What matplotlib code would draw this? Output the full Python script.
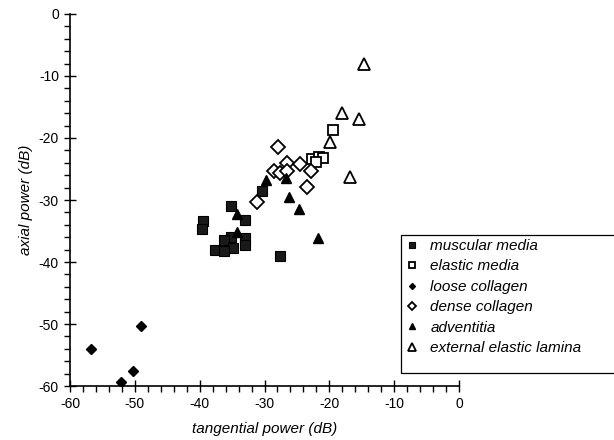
import matplotlib
matplotlib.use('Agg')
import matplotlib.pyplot as plt
from matplotlib.ticker import MultipleLocator
from matplotlib.patches import Rectangle

plt.rcParams['font.family'] = ['Liberation Sans', 'DejaVu Sans']
plt.rcParams['axes.unicode_minus'] = False

# --- data (tangential dB, axial dB) ---
muscular_x = [-35.2, -33.0, -39.5, -39.7, -35.2, -36.2, -33.0, -33.0, -34.9, -37.6, -36.2, -30.4, -27.6]
muscular_y = [-30.9, -33.2, -33.4, -34.7, -36.0, -36.4, -36.1, -37.2, -37.7, -38.1, -38.2, -28.5, -39.0]

elastic_x = [-19.4, -22.7, -21.6, -21.0, -22.0]
elastic_y = [-18.7, -23.4, -23.1, -23.2, -23.8]

loose_x = [-56.8, -49.0, -50.3, -52.1]
loose_y = [-54.1, -50.3, -57.5, -59.4]

dense_x = [-27.9, -26.6, -24.5, -28.5, -27.6, -26.6, -22.8, -23.5, -31.2]
dense_y = [-21.5, -24.0, -24.2, -25.3, -25.7, -25.4, -25.3, -27.9, -30.3]

advent_x = [-29.8, -26.7, -26.3, -24.7, -21.7, -34.3, -34.3]
advent_y = [-26.8, -26.5, -29.5, -31.5, -36.1, -32.3, -35.1]

eel_x = [-14.7, -18.1, -15.4, -19.9, -16.8]
eel_y = [-8.1, -15.9, -17.0, -20.6, -26.3]

fig = plt.figure(figsize=(6.14, 4.40), dpi=100)
ax = fig.add_axes([0.114, 0.1227, 0.6336, 0.8455])

ax.plot(muscular_x, muscular_y, 's', ms=7.5, mfc='#1a1a1a', mec='black', mew=0.8,
        label='muscular media')
ax.plot(elastic_x, elastic_y, 's', ms=7.5, mfc='white', mec='black', mew=1.3,
        label='elastic media')
ax.plot(loose_x, loose_y, 'D', ms=5, mfc='black', mec='black',
        label='loose collagen')
ax.plot(dense_x, dense_y, 'D', ms=7.5, mfc='white', mec='black', mew=1.3,
        label='dense collagen')
ax.plot(advent_x, advent_y, '^', ms=6.5, mfc='black', mec='black',
        label='adventitia')
ax.plot(eel_x, eel_y, '^', ms=9, mfc='none', mec='black', mew=1.3,
        label='external elastic lamina')

ax.set_xlim(-60, 0)
ax.set_ylim(-60, 0)
ax.xaxis.set_major_locator(MultipleLocator(10))
ax.xaxis.set_minor_locator(MultipleLocator(2))
ax.yaxis.set_major_locator(MultipleLocator(10))
ax.yaxis.set_minor_locator(MultipleLocator(2))
ax.tick_params(which='major', direction='inout', length=9, width=1, labelsize=10)
ax.tick_params(which='minor', direction='out', length=4, width=1)

for s in ['top', 'right']:
    ax.spines[s].set_visible(False)
ax.spines['left'].set_linewidth(1.2)
ax.spines['bottom'].set_linewidth(1.2)

ax.set_xlabel('tangential power (dB)', fontsize=11, style='italic', labelpad=8)
ax.set_ylabel('axial power (dB)', fontsize=11, style='italic', labelpad=4)

# legend without its own frame; the box runs off the right edge as in the scan
leg = fig.legend(loc='upper left', bbox_to_anchor=(403 / 614, 1 - 236 / 440),
                 frameon=False, prop={'style': 'italic', 'size': 11},
                 markerscale=0.6, handlelength=0.8, handletextpad=0.8,
                 labelspacing=0.42, borderpad=0.2, borderaxespad=0)
fig.patches.append(Rectangle((401 / 614, 1 - 373 / 440), 0.5, 138 / 440,
                             transform=fig.transFigure, fill=False,
                             edgecolor='black', linewidth=0.9))

fig.savefig('out.png', dpi=100, facecolor='white')
